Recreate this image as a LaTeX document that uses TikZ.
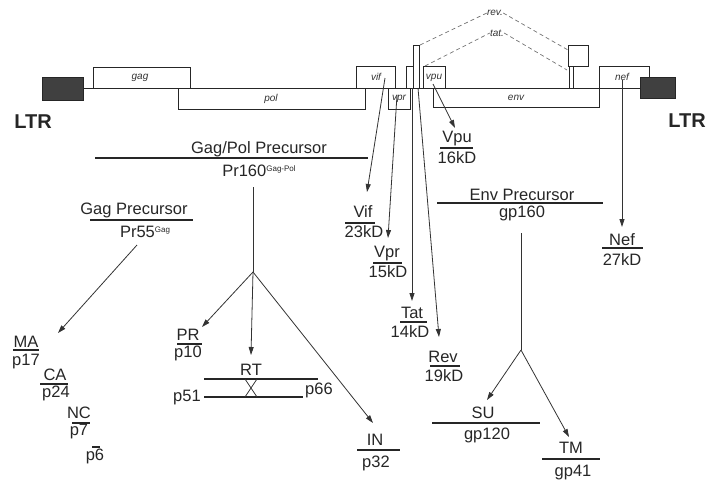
\documentclass[tikz,border=0pt]{standalone}
\usepackage{fontspec}
\setmainfont{Liberation Sans}
\usetikzlibrary{arrows.meta}
\begin{document}
\begin{tikzpicture}[x=1pt,y=-1pt,
  lbl/.style={font=\fontsize{16.5}{18}\selectfont, inner sep=0pt, anchor=base, text=black!85},
  gene/.style={font=\fontsize{10}{12}\selectfont\itshape, inner sep=0pt, text=black!80},
  ltrlbl/.style={font=\fontsize{20}{22}\selectfont\bfseries, inner sep=0pt, text=black!85},
  gbox/.style={draw=black!85, line width=0.9pt, fill=white},
  ltrbox/.style={draw=black!85, fill=black!75, line width=0.6pt},
  rulel/.style={draw=black!85, line width=1.8pt},
  arr/.style={draw=black!80, line width=0.8pt, -{Triangle[length=8pt,width=5pt]}},
  plain/.style={draw=black!80, line width=0.8pt},
  dsh/.style={draw=black!55, line width=0.7pt, dashed, dash pattern=on 4pt off 3pt}]
\useasboundingbox (0,0) rectangle (708,479);

% ---------- genome ----------
\draw[draw=black!85, line width=0.9pt] (83,88) -- (640,88);
\draw[gbox] (178,88) rectangle (365,109);
\draw[gbox] (93,67) rectangle (190,88);
\draw[gbox] (356,66) rectangle (395,88);
\draw[gbox] (388,88) rectangle (410,109);
\draw[gbox] (433,88) rectangle (599,107);
\draw[gbox] (406,66) rectangle (416,88);
\draw[gbox] (413,45) rectangle (419,88);
\draw[gbox] (423,66) rectangle (445,88);
\draw[gbox] (568,45) rectangle (588,66);
\draw[draw=black!85, line width=0.9pt] (569,66) -- (569,88) (573,66) -- (573,88);
\draw[gbox] (599,66) rectangle (649,88);
\draw[ltrbox] (42,77) rectangle (83,100);
\draw[ltrbox] (640,77) rectangle (675,98);

\node[gene] (ggag) at (140,78) {gag};
\node[gene] (gpol) at (271,99) {pol};
\node[gene] (gvif) at (376,77) {vif};
\node[gene] (gvpr) at (399,99) {vpr};
\node[gene] (gvpu) at (434,78) {vpu};
\node[gene] (genv) at (516,98) {env};
\node[gene] (gnef) at (622,77) {nef};

\node[gene] (revlbl) at (495,13) {rev.};
\node[gene] (tatlbl) at (497,33) {tat.};
\coordinate (revA) at (420,45);
\coordinate (revB) at (568,50);
\coordinate (tatA) at (425,66);
\coordinate (tatB) at (567,70);
\draw[dsh] (revA) -- (revlbl.west);
\draw[dsh] (revlbl.east) -- (revB);
\draw[dsh] (tatA) -- (tatlbl.west);
\draw[dsh] (tatlbl.east) -- (tatB);

\node[ltrlbl] (ltrL) at (33,122) {LTR};
\node[ltrlbl] (ltrR) at (687,121) {LTR};

% ---------- Gag/Pol precursor ----------
\node[lbl] (gagpol) at (259,153) {Gag/Pol Precursor};
\draw[rulel] (95,158) -- (368,158);
\node[lbl] (pr160) at (259,176) {Pr160\raisebox{5pt}{\fontsize{8}{9}\selectfont Gag-Pol}};
\coordinate (gpTop) at (253,187);
\coordinate (J1) at (253,272);
\draw[plain] (gpTop) -- (J1);
\coordinate (prTip) at (202,327);
\coordinate (rtTip) at (251,355);
\coordinate (inTip) at (373,423);
\draw[arr] (J1) -- (prTip);
\draw[arr] (J1) -- (rtTip);
\draw[arr] (J1) -- (inTip);

\node[lbl] (pr) at (188,340) {PR};
\draw[rulel] (177,344) -- (202,344);
\node[lbl] (p10) at (188,357) {p10};

\node[lbl] (rt) at (251,375) {RT};
\draw[rulel] (204,379) -- (318,379);
\draw[rulel] (204,397) -- (303,397);
\draw[plain] (245,379) -- (257,397) (257,379) -- (245,397);
\node[lbl] (p51) at (187,401) {p51};
\node[lbl] (p66) at (319,394) {p66};

\node[lbl] (in) at (375,445) {IN};
\draw[rulel] (357,450) -- (400,450);
\node[lbl] (p32) at (376,467) {p32};

% ---------- Gag precursor ----------
\node[lbl] (gagpre) at (134,214) {Gag Precursor};
\draw[rulel] (90,220) -- (193,220);
\node[lbl] (pr55) at (145,237) {Pr55\raisebox{5pt}{\fontsize{8}{9}\selectfont Gag}};
\coordinate (gagStart) at (137,245);
\coordinate (maTip) at (58,333);
\draw[arr] (gagStart) -- (maTip);

\node[lbl] (ma) at (26,347) {MA};
\draw[rulel] (13,350) -- (39,350);
\node[lbl] (p17) at (26,365) {p17};
\node[lbl] (ca) at (55,380) {CA};
\draw[rulel] (40,384) -- (68,384);
\node[lbl] (p24) at (56,397) {p24};
\node[lbl] (nc) at (79,418) {NC};
\draw[rulel] (72,423) -- (90,423);
\node[lbl] (p7) at (79,435) {p7};
\draw[rulel] (92,447) -- (100,447);
\node[lbl] (p6) at (95,460) {p6};

% ---------- accessory proteins ----------
\coordinate (vifS) at (385,78);
\coordinate (vifTip) at (367,192);
\draw[arr] (vifS) -- (vifTip);
\node[lbl] (vif) at (363,217) {Vif};
\draw[rulel] (345,223) -- (375,223);
\node[lbl] (vifw) at (364,237) {23kD};

\coordinate (vprS) at (397,95);
\coordinate (vprTip) at (388,238);
\draw[arr] (vprS) -- (vprTip);
\node[lbl] (vpr) at (387,257) {Vpr};
\draw[rulel] (373,263) -- (402,263);
\node[lbl] (vprw) at (388,277) {15kD};

\coordinate (tatS) at (412,88);
\coordinate (tatTip) at (412,301);
\draw[arr] (tatS) -- (tatTip);
\node[lbl] (tat) at (412,318) {Tat};
\draw[rulel] (400,322) -- (427,322);
\node[lbl] (tatw) at (410,337) {14kD};

\coordinate (revS) at (418,88);
\coordinate (revTip) at (439,337);
\draw[arr] (revS) -- (revTip);
\node[lbl] (rev) at (443,362) {Rev};
\draw[rulel] (430,366) -- (460,366);
\node[lbl] (revw) at (444,381) {19kD};

\coordinate (vpuS) at (433,84);
\coordinate (vpuTip) at (455,128);
\draw[arr] (vpuS) -- (vpuTip);
\node[lbl] (vpu) at (457,142) {Vpu};
\draw[rulel] (440,148) -- (473,148);
\node[lbl] (vpuw) at (457,163) {16kD};

\coordinate (nefS) at (622,80);
\coordinate (nefTip) at (622,227);
\draw[arr] (nefS) -- (nefTip);
\node[lbl] (nef) at (622,245) {Nef};
\draw[rulel] (602,248) -- (643,248);
\node[lbl] (nefw) at (622,265) {27kD};

% ---------- Env precursor ----------
\node[lbl] (envpre) at (522,200) {Env Precursor};
\draw[rulel] (437,203) -- (603,203);
\node[lbl] (gp160) at (522,217) {gp160};
\coordinate (envTop) at (521,233);
\coordinate (J2) at (521,350);
\draw[plain] (envTop) -- (J2);
\coordinate (suTip) at (487,400);
\coordinate (tmTip) at (569,437);
\draw[arr] (J2) -- (suTip);
\draw[arr] (J2) -- (tmTip);

\node[lbl] (su) at (483,418) {SU};
\draw[rulel] (432,423) -- (540,423);
\node[lbl] (gp120) at (487,439) {gp120};
\node[lbl] (tm) at (571,453) {TM};
\draw[rulel] (542,459) -- (600,459);
\node[lbl] (gp41) at (573,476) {gp41};
\end{tikzpicture}
\end{document}
